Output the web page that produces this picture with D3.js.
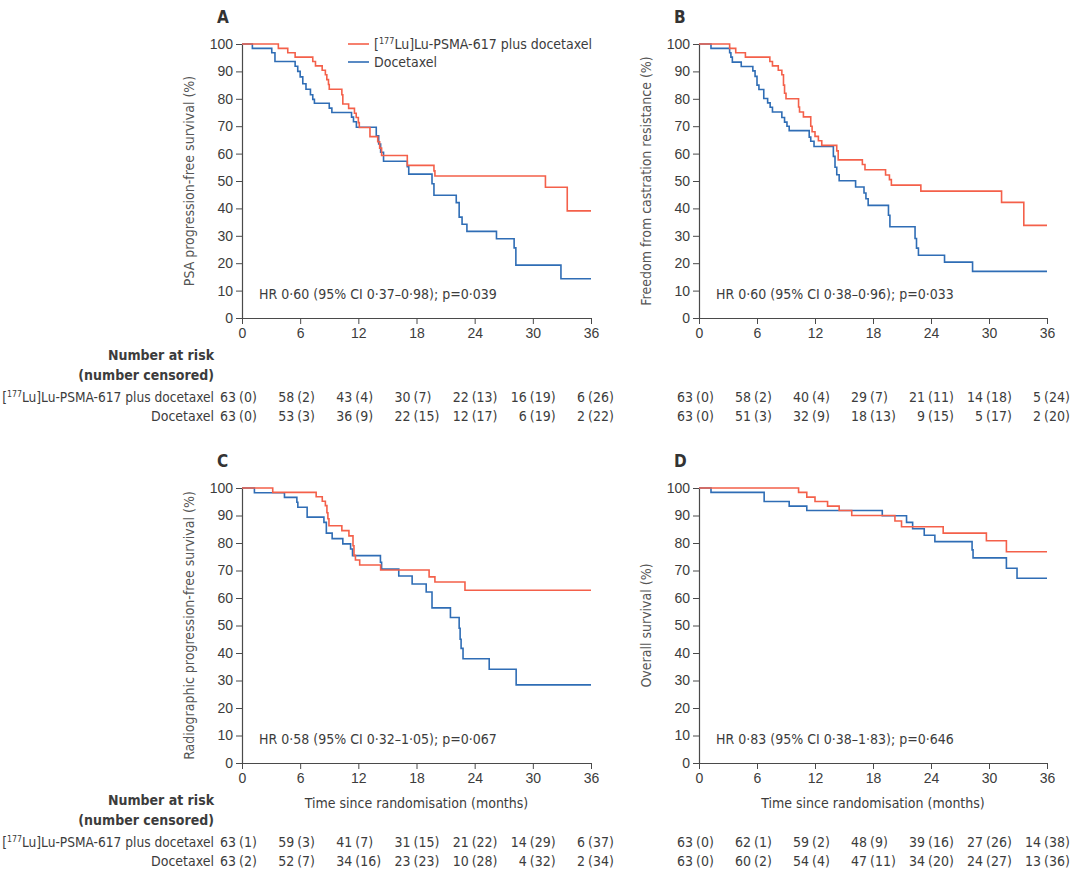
<!DOCTYPE html>
<html>
<head>
<meta charset="utf-8">
<script src="https://cdn.jsdelivr.net/npm/d3@7"></script>
<style>
  body { margin: 0; background: #fff; }
  svg { display: block; font-family: "Liberation Sans Narrow", "DejaVu Sans Condensed", sans-serif; }
  .tick text { font-size: 14px; fill: #3c3c3c; }
  .tick line, .domain { stroke: #4a4a4a; }
</style>
</head>
<body>
<svg id="viz" width="1080" height="891"></svg>
<script>
// Kaplan-Meier step curves, [months, % surviving]
const psaLu = [[0,100],[3.75,98.4],[4.72,96.8],[5.48,95.2],[7.3,93.6],[7.58,92.0],[8.27,90.4],[8.6,88.8],[8.75,87.0],[8.92,85.2],[9.0,83.5],[10.3,81.5],[10.4,78.1],[11.0,76.5],[11.6,74.7],[11.78,73.2],[12.0,71.3],[12.1,69.5],[13.2,66.2],[14.0,64.3],[14.2,62.0],[14.4,59.3],[17.05,55.7],[19.8,53.7],[19.9,51.8],[31.3,47.7],[33.55,39.1],[36,39.1]];
const psaDoc = [[0,100],[1.07,98.4],[3.07,96.8],[3.4,93.6],[5.48,91.9],[5.75,90.0],[6.0,88.0],[6.27,85.5],[6.6,83.5],[7.06,81.5],[7.3,79.8],[7.47,78.4],[9.0,76.6],[9.27,75.0],[11.3,73.3],[11.5,71.6],[11.8,69.6],[13.85,66.5],[14.1,63.5],[14.3,60.5],[14.6,57.2],[17.05,55.2],[17.2,52.5],[19.6,49.0],[19.8,44.8],[22.1,42.1],[22.4,36.8],[22.7,34.2],[23.2,31.6],[26.25,28.9],[28.07,25.6],[28.25,19.3],[32.9,14.3],[36,14.3]];

const ffcrLu = [[0,100],[3.17,98.4],[3.8,96.8],[4.8,95.2],[7.33,93.6],[7.6,92.0],[8.2,90.4],[8.57,88.8],[8.74,85.0],[8.85,82.0],[9.0,80.0],[10.3,77.0],[10.4,75.2],[10.8,73.4],[11.56,70.0],[11.7,68.0],[12.0,66.3],[12.35,64.7],[12.7,63.0],[14.25,61.0],[14.4,57.7],[16.9,56.0],[17.17,54.1],[19.3,52.2],[19.7,50.5],[19.9,48.5],[22.95,46.3],[31.3,42.2],[33.6,33.8],[36,33.8]];
const ffcrDoc = [[0,100],[1.24,98.4],[3.17,96.8],[3.3,95.2],[3.45,93.4],[4.37,91.8],[5.57,90.2],[5.8,88.2],[6.0,85.0],[6.2,83.4],[6.7,80.1],[7.1,78.5],[7.36,76.9],[7.6,75.2],[8.57,73.2],[8.85,71.5],[9.1,70.0],[9.33,68.4],[11.4,66.0],[11.56,64.5],[11.9,62.6],[13.9,59.0],[14.07,55.0],[14.25,52.3],[14.5,50.1],[16.2,47.8],[17.07,45.6],[17.27,43.5],[17.5,41.1],[19.6,37.5],[19.75,33.3],[22.35,29.0],[22.5,25.5],[22.7,22.9],[25.4,20.4],[28.3,17.0],[36,17.0]];

const rpfsLu = [[0,100],[3.17,98.4],[7.65,96.8],[8.28,95.2],[8.6,93.6],[8.76,91.0],[8.86,88.8],[8.97,86.3],[10.3,84.5],[11.03,82.6],[11.45,79.0],[11.55,75.5],[11.7,73.8],[12.14,72.0],[14.3,70.2],[19.3,67.7],[19.9,65.8],[23.0,62.8],[36,62.8]];
const rpfsDoc = [[0,100],[1.28,98.3],[4.38,96.6],[5.66,94.8],[5.76,93.0],[6.72,89.4],[8.45,87.5],[8.7,83.6],[9.3,81.6],[10.4,79.7],[11.2,77.8],[11.4,75.4],[14.28,73.0],[14.4,70.5],[16.17,68.0],[17.55,65.1],[19.0,62.2],[19.6,56.4],[21.5,52.9],[22.4,49.0],[22.5,45.0],[22.6,41.7],[22.8,37.9],[25.5,34.1],[28.28,28.4],[36,28.4]];

const osLu = [[0,100],[10.3,98.4],[11.15,96.7],[12.0,95.1],[13.3,93.4],[14.5,91.8],[15.8,90.0],[20.27,88.0],[20.95,85.9],[25.26,83.6],[29.73,80.8],[31.8,76.8],[36,76.8]];
const osDoc = [[0,100],[1.24,98.4],[6.74,95.1],[9.33,93.4],[11.15,91.8],[18.96,89.9],[21.47,87.5],[22.1,85.2],[23.3,82.8],[24.4,80.5],[28.25,77.5],[28.35,74.6],[31.8,70.8],[32.9,67.2],[36,67.2]];

// number at risk / number censored at each x tick
const riskTimes = [0, 6, 12, 18, 24, 30, 36];
const psaLuRisk = [63,58,43,30,22,16,6],  psaLuCens = [0,2,4,7,13,19,26];
const psaDocRisk = [63,53,36,22,12,6,2],  psaDocCens = [0,3,9,15,17,19,22];
const ffcrLuRisk = [63,58,40,29,21,14,5], ffcrLuCens = [0,2,4,7,11,18,24];
const ffcrDocRisk = [63,51,32,18,9,5,2],  ffcrDocCens = [0,3,9,13,15,17,20];
const rpfsLuRisk = [63,59,41,31,21,14,6], rpfsLuCens = [1,3,7,15,22,29,37];
const rpfsDocRisk = [63,52,34,23,10,4,2], rpfsDocCens = [2,7,16,23,28,32,34];
const osLuRisk = [63,62,59,48,39,27,14],  osLuCens = [0,1,2,9,16,26,38];
const osDocRisk = [63,60,54,47,34,24,13], osDocCens = [0,2,4,11,20,27,36];

const yTicks = [0,10,20,30,40,50,60,70,80,90,100];
const seriesNames = ["Lu-PSMA-617 plus docetaxel", "Docetaxel"];

const red = "#f4604a", blue = "#2f6db5", ink = "#3c3c3c";

const svg = d3.select("#viz");

const panels = [
  { letter: "A", left: 242, right: 591, top: 44, bottom: 318, ylab: "PSA progression-free survival (%)",
    lu: psaLu, doc: psaDoc, hr: "HR 0·60 (95% CI 0·37–0·98); p=0·039",
    risk: [psaLuRisk, psaLuCens, psaDocRisk, psaDocCens], labels: true, legend: true, xtitle: false },
  { letter: "B", left: 699, right: 1047, top: 44, bottom: 318, ylab: "Freedom from castration resistance (%)",
    lu: ffcrLu, doc: ffcrDoc, hr: "HR 0·60 (95% CI 0·38–0·96); p=0·033",
    risk: [ffcrLuRisk, ffcrLuCens, ffcrDocRisk, ffcrDocCens], labels: false, legend: false, xtitle: false },
  { letter: "C", left: 242, right: 591, top: 488, bottom: 763, ylab: "Radiographic progression-free survival (%)",
    lu: rpfsLu, doc: rpfsDoc, hr: "HR 0·58 (95% CI 0·32–1·05); p=0·067",
    risk: [rpfsLuRisk, rpfsLuCens, rpfsDocRisk, rpfsDocCens], labels: true, legend: false, xtitle: true },
  { letter: "D", left: 699, right: 1047, top: 488, bottom: 763, ylab: "Overall survival (%)",
    lu: osLu, doc: osDoc, hr: "HR 0·83 (95% CI 0·38–1·83); p=0·646",
    risk: [osLuRisk, osLuCens, osDocRisk, osDocCens], labels: false, legend: false, xtitle: true }
];

// bracketed isotope label: [177Lu]Lu-PSMA-617 plus docetaxel
function luLabel(sel) {
  sel.append("tspan").text("[");
  sel.append("tspan").attr("font-size", "9px").attr("dy", -5).text("177");
  sel.append("tspan").attr("dy", 5).text("Lu]" + seriesNames[0]);
}

panels.forEach(function(p) {
  const x = d3.scaleLinear().domain([0, 36]).range([p.left, p.right]);
  const y = d3.scaleLinear().domain([0, 100]).range([p.bottom, p.top]);
  const g = svg.append("g");

  g.append("text")
    .attr("x", p.left - 25).attr("y", p.top - 21)
    .attr("font-size", "17px").attr("font-weight", "bold").attr("fill", "#333")
    .text(p.letter);

  g.append("g")
    .attr("transform", "translate(" + p.left + ",0)")
    .call(d3.axisLeft(y).tickValues(yTicks).tickSize(6).tickSizeOuter(0).tickPadding(3));

  g.append("g")
    .attr("transform", "translate(0," + p.bottom + ")")
    .call(d3.axisBottom(x).tickValues(riskTimes).tickSize(6).tickSizeOuter(0).tickPadding(4));

  g.selectAll(".domain").attr("stroke-width", 1.2);

  g.append("text")
    .attr("transform", "translate(" + (p.left - 48) + "," + ((p.top + p.bottom) / 2) + ") rotate(-90)")
    .attr("text-anchor", "middle").attr("font-size", "14px").attr("fill", "#555")
    .text(p.ylab);

  const line = d3.line()
    .x(d => x(d[0])).y(d => y(d[1]))
    .curve(d3.curveStepAfter);

  g.append("path").datum(p.doc).attr("d", line)
    .attr("fill", "none").attr("stroke", blue).attr("stroke-width", 1.6);
  g.append("path").datum(p.lu).attr("d", line)
    .attr("fill", "none").attr("stroke", red).attr("stroke-width", 1.6);

  g.append("text")
    .attr("x", x(0) + 17).attr("y", y(0) - 19)
    .attr("font-size", "14px").attr("fill", ink)
    .text(p.hr);

  if (p.legend) {
    const lg = g.append("g");
    [[red, 44], [blue, 62]].forEach(function(d, i) {
      lg.append("line").attr("x1", 348).attr("x2", 369).attr("y1", d[1]).attr("y2", d[1])
        .attr("stroke", d[0]).attr("stroke-width", 1.6);
      const t = lg.append("text").attr("x", 374).attr("y", d[1] + 5)
        .attr("font-size", "14px").attr("fill", ink);
      if (i === 0) luLabel(t); else t.text(seriesNames[1]);
    });
  }

  if (p.xtitle) {
    g.append("text")
      .attr("x", (p.left + p.right) / 2).attr("y", p.bottom + 45)
      .attr("text-anchor", "middle").attr("font-size", "14px").attr("fill", ink)
      .text("Time since randomisation (months)");
  }

  // number at risk table
  const r0 = p.bottom + 84;
  if (p.labels) {
    const hdr = [["Number at risk", r0 - 42], ["(number censored)", r0 - 22]];
    hdr.forEach(function(h) {
      g.append("text").attr("x", 214).attr("y", h[1]).attr("text-anchor", "end")
        .attr("font-size", "14px").attr("font-weight", "bold").attr("fill", ink).text(h[0]);
    });
    // squeeze the long row label so it fits left of the table
    const lt = g.append("text").attr("x", 0).attr("y", 0).attr("text-anchor", "end")
      .attr("font-size", "14px").attr("fill", ink);
    luLabel(lt);
    const w = lt.node().getComputedTextLength();
    const k = w > 212 ? 212 / w : 1;
    lt.attr("transform", "translate(214," + r0 + ") scale(" + k + ",1)");
    g.append("text").attr("x", 214).attr("y", r0 + 19).attr("text-anchor", "end")
      .attr("font-size", "14px").attr("fill", ink).text(seriesNames[1]);
  }

  [[p.risk[0], p.risk[1], r0], [p.risk[2], p.risk[3], r0 + 19]].forEach(function(row) {
    const rg = g.append("g").attr("font-size", "14px").attr("fill", ink);
    rg.selectAll("text.n").data(riskTimes).enter().append("text")
      .attr("x", t => x(t) - 6).attr("y", row[2]).attr("text-anchor", "end")
      .text((t, i) => row[0][i]);
    rg.selectAll("text.c").data(riskTimes).enter().append("text")
      .attr("x", t => x(t) - 3).attr("y", row[2])
      .text((t, i) => "(" + row[1][i] + ")");
  });
});
</script>
</body>
</html>
